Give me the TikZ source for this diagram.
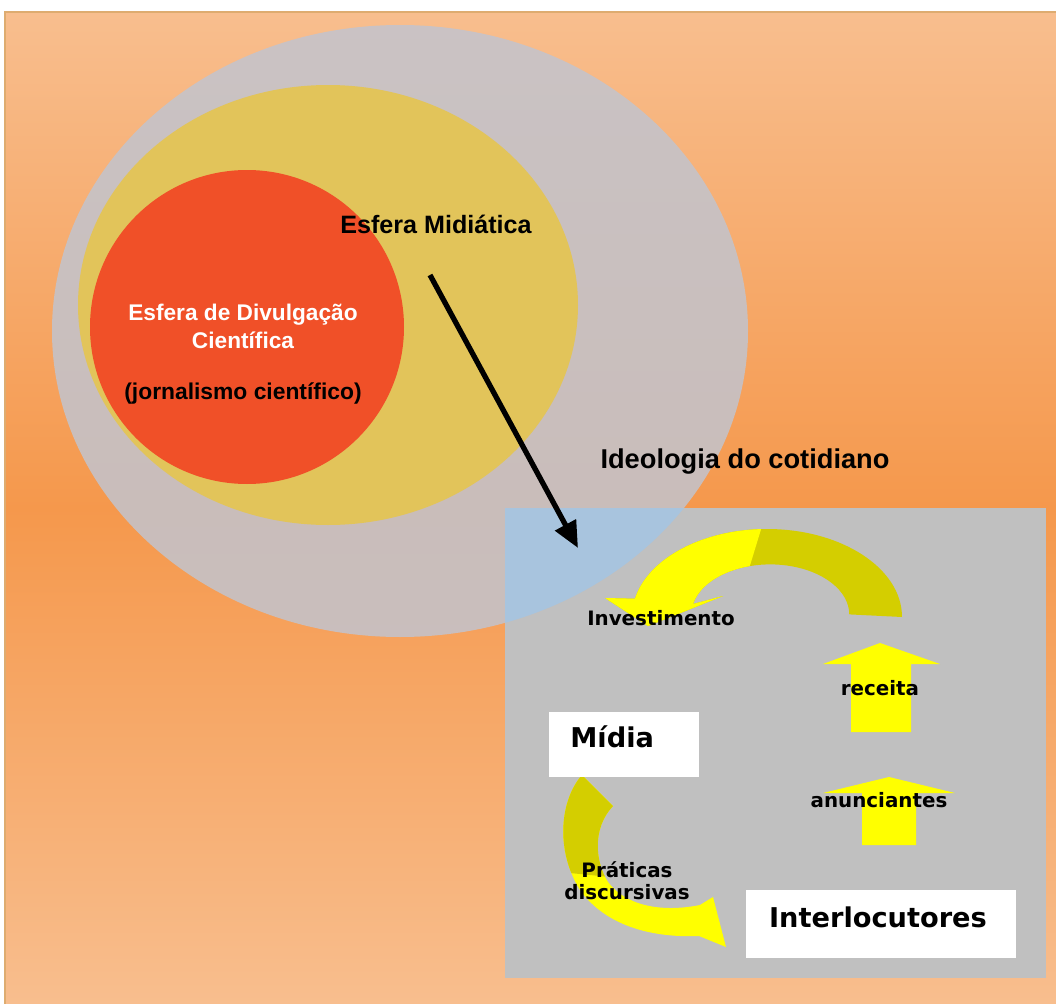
\documentclass[tikz,border=0pt]{standalone}
\usepackage{fontspec}
\usepackage{tikz}
\usetikzlibrary{arrows.meta}
\newfontfamily\arialfont{Liberation Sans}
\newfontfamily\verdfont{DejaVu Sans}
\definecolor{bgtop}{RGB}{248,190,142}
\definecolor{bgmid}{RGB}{245,152,76}
\definecolor{bgedge}{RGB}{222,172,112}
\definecolor{outergray}{RGB}{194,196,206}
\definecolor{midyellow}{RGB}{226,196,90}
\definecolor{innerred}{RGB}{240,80,40}
\definecolor{boxgray}{RGB}{192,192,192}
\definecolor{lightblue}{RGB}{168,196,222}
\definecolor{brightyel}{RGB}{255,255,0}
\definecolor{oliveyel}{RGB}{212,206,0}
\newcommand\investband{(902,617) arc[start angle=0, end angle=-168, x radius=135, y radius=88]
    -- (605,598) -- (648,626) -- (723,596)
    -- (693,604) arc[start angle=-168, end angle=0, x radius=79, y radius=50] -- cycle}
\newcommand\praticband{(582,775) .. controls (560,800) and (555,850) .. (580,890)
    .. controls (605,925) and (650,938) .. (699,936) -- (726,947) -- (713,897) -- (700,905)
    .. controls (660,913) and (625,905) .. (608,882)
    .. controls (595,862) and (592,828) .. (613,806) -- cycle}
\tikzset{
  esftxt/.style={font=\arialfont\bfseries\fontsize{14.3}{17}\selectfont, inner sep=0pt},
  whitetxt/.style={font=\arialfont\bfseries\fontsize{12.9}{16}\selectfont, text=white, inner sep=0pt},
  lbl/.style={font=\verdfont\bfseries\fontsize{11.3}{13.5}\selectfont, inner sep=0pt},
  bigtxt/.style={font=\verdfont\bfseries\fontsize{15.5}{18}\selectfont, inner sep=0pt},
  whitebox/.style={fill=white, inner sep=0pt},
}
\begin{document}
\begin{tikzpicture}[x=0.02cm, y=-0.02cm]
    \useasboundingbox (0,0) rectangle (1056,1004);
    \fill[white] (0,0) rectangle (1056,1004);
    \shade[top color=bgtop, bottom color=bgtop, middle color=bgmid] (5,12) rectangle (1056,1004);
    \draw[bgedge, line width=1pt] (5,1004) -- (5,12) -- (1056,12);

    \fill[outergray, fill opacity=0.85] (400,331) ellipse [x radius=348, y radius=306];
    \fill[midyellow] (328,305) ellipse [x radius=250, y radius=220];
    \fill[innerred] (247,327) circle [radius=157];

    \node[esftxt, anchor=base] at (436,233) (esfmid) {Esfera Midiática};
    \node[whitetxt, anchor=base] at (243,320) (divulg) {Esfera de Divulgação};
    \node[whitetxt, anchor=base] at (243,348) (cientif) {Científica};
    \node[esftxt, font=\arialfont\bfseries\fontsize{13}{16}\selectfont, anchor=base] at (243,399) (jornal) {(jornalismo científico)};
    \node[esftxt, font=\arialfont\bfseries\fontsize{15.5}{18}\selectfont] at (745,462) (ideol) {Ideologia do cotidiano};

    \fill[boxgray] (505,508) rectangle (1046,978);
    \begin{scope}
        \clip (505,508) rectangle (1046,978);
        \fill[lightblue] (400,331) ellipse [x radius=348, y radius=306];
    \end{scope}

    \coordinate (arrfrom) at (430,275);
    \coordinate (arrto) at (578,548);
    \draw[line width=3pt, -{Triangle[length=15pt, width=13pt]}] (arrfrom) -- (arrto);

    \fill[oliveyel] \investband;
    \begin{scope}
        \clip (590,500) -- (770,500) -- (748,572) -- (735,640) -- (590,640) -- cycle;
        \fill[brightyel] \investband;
    \end{scope}
    \fill[brightyel] (851,732) -- (851,664) -- (823,664) -- (880,643) -- (940,664) -- (911,664) -- (911,732) -- cycle;
    \fill[brightyel] (862,845) -- (862,793) -- (823,793) -- (889,777) -- (955,793) -- (916,793) -- (916,845) -- cycle;
    \fill[brightyel] \praticband;
    \begin{scope}
        \clip (540,770) -- (640,770) -- (640,880) -- (540,870) -- cycle;
        \fill[oliveyel] \praticband;
    \end{scope}

    \node[whitebox, minimum width=3cm, minimum height=1.3cm] at (624,744.5) (midiabox) {};
    \node[whitebox, minimum width=5.4cm, minimum height=1.36cm] at (881,924) (interbox) {};

    \node[bigtxt, anchor=base west] at (570,747) (midia) {Mídia};
    \node[bigtxt, anchor=base] at (878,927) (interloc) {Interlocutores};
    \node[lbl, anchor=base] at (661,625) (invest) {Investimento};
    \node[lbl, anchor=base] at (880,695) (receita) {receita};
    \node[lbl, anchor=base] at (879,807) (anunc) {anunciantes};
    \node[lbl, anchor=base] at (627,877) (pratic) {Práticas};
    \node[lbl, anchor=base] at (627,899) (discurs) {discursivas};
\end{tikzpicture}
\end{document}
